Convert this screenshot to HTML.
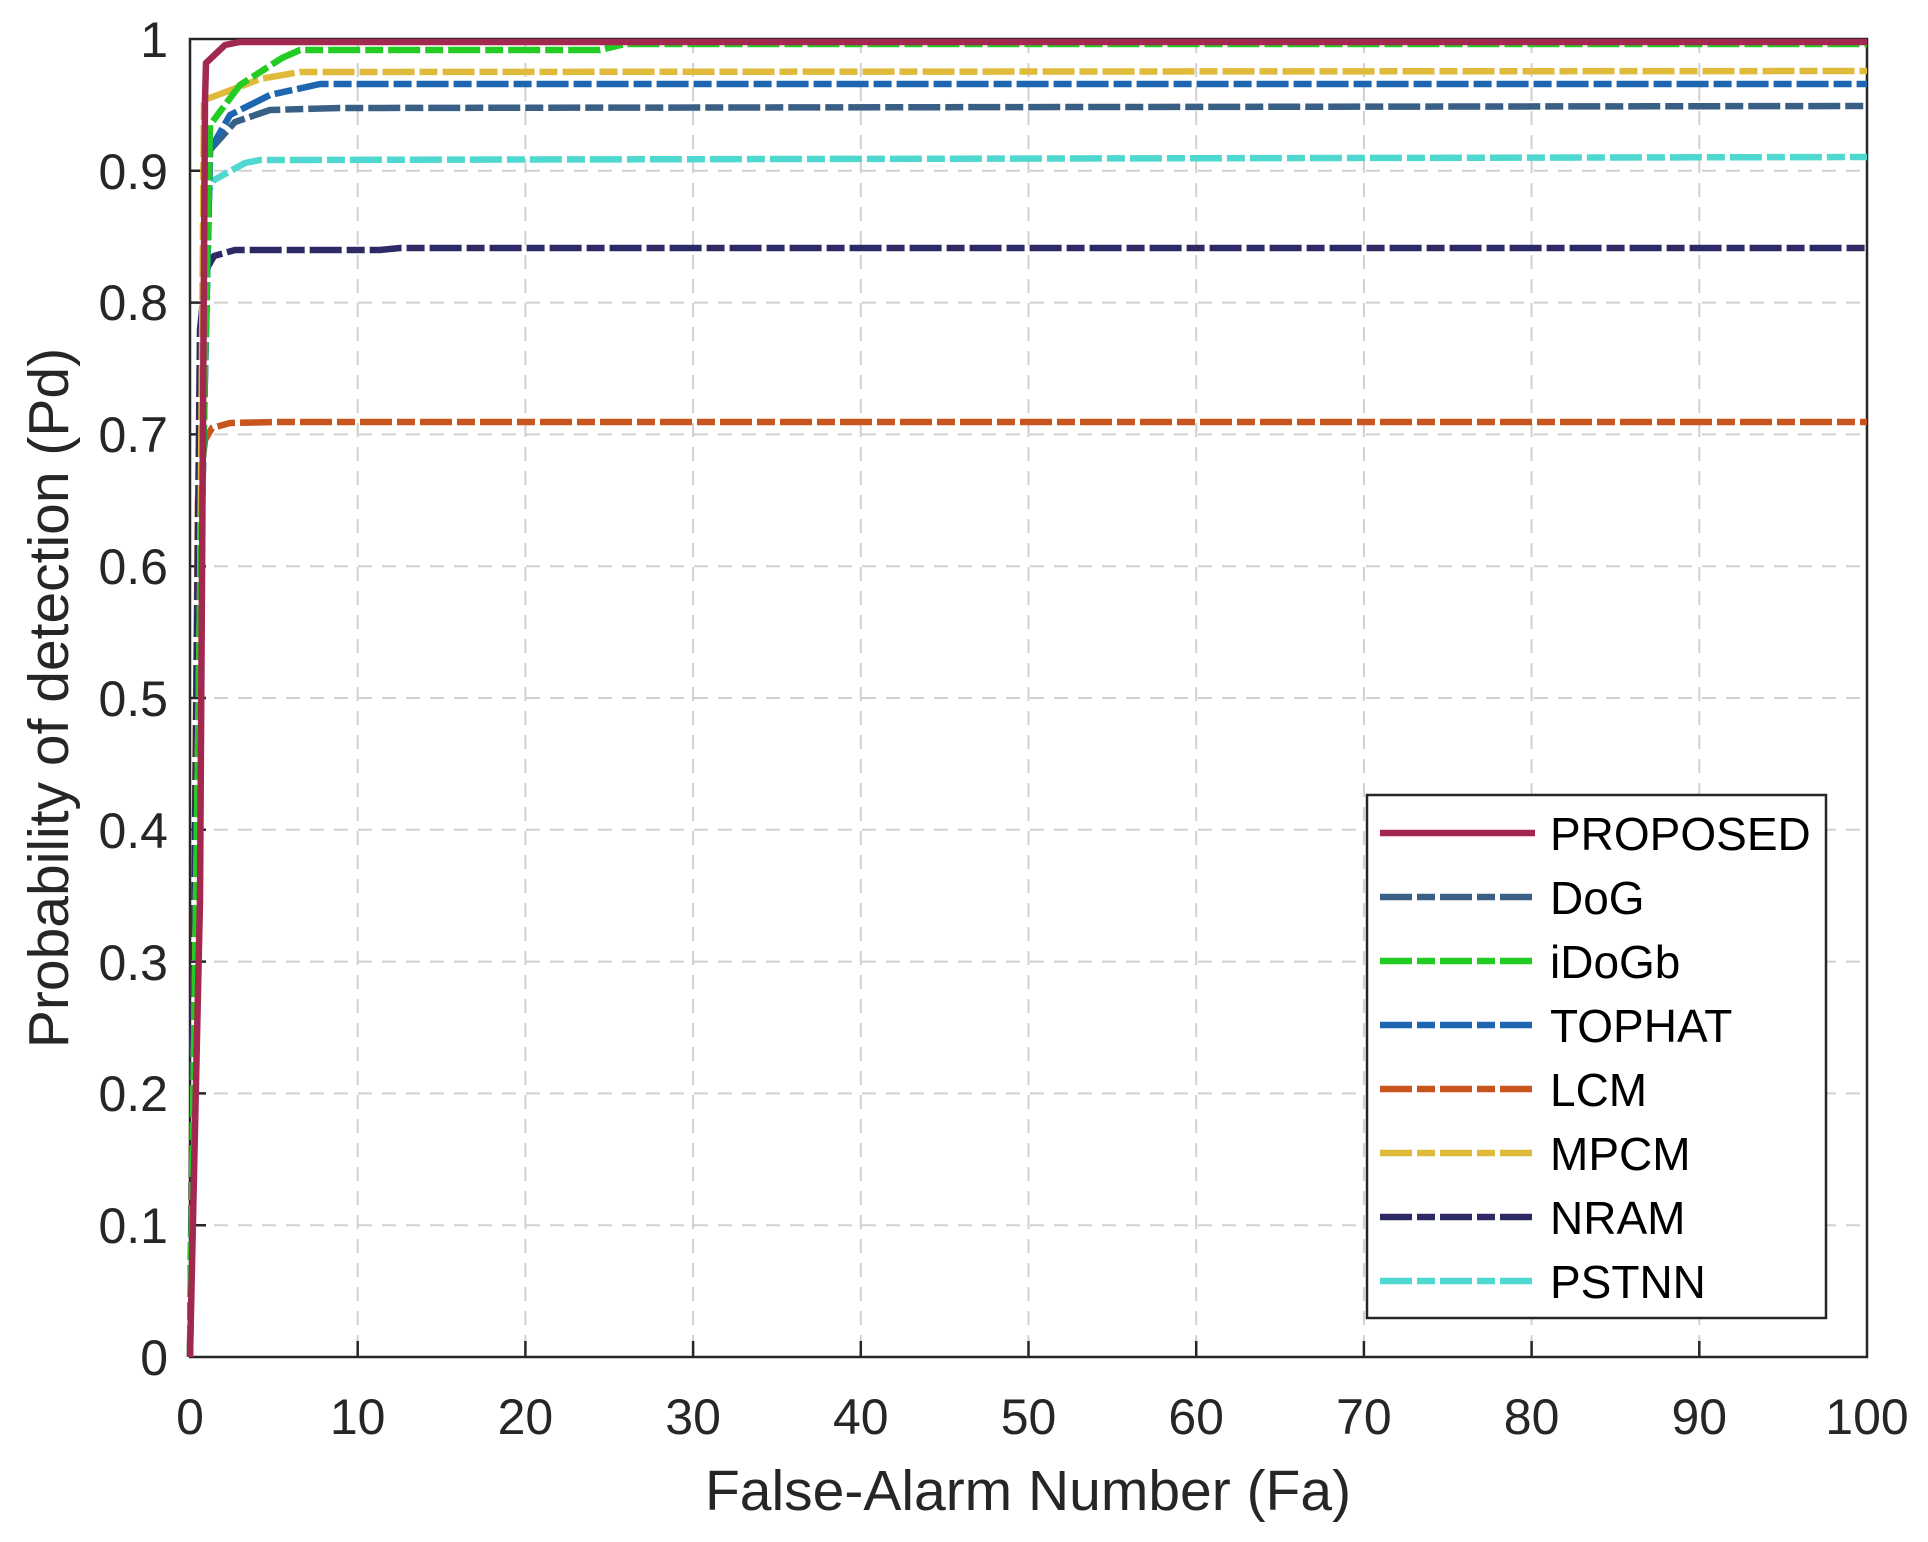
<!DOCTYPE html>
<html><head><meta charset="utf-8"><style>
html,body{margin:0;padding:0;background:#fff;}
svg{display:block;font-family:"Liberation Sans",sans-serif;}
</style></head><body>
<svg width="1928" height="1542" viewBox="0 0 1928 1542" xmlns="http://www.w3.org/2000/svg">
<rect width="1928" height="1542" fill="#fff"/>
<g stroke="#d0d0d0" stroke-width="2" stroke-dasharray="14,10" fill="none">
<path d="M357.7 39V1357M525.4 39V1357M693.1 39V1357M860.8 39V1357M1028.5 39V1357M1196.2 39V1357M1363.9 39V1357M1531.6 39V1357M1699.3 39V1357"/>
<path d="M190 170.8H1867M190 302.6H1867M190 434.4H1867M190 566.2H1867M190 698H1867M190 829.8H1867M190 961.6H1867M190 1093.4H1867M190 1225.2H1867"/>
</g>
<g stroke="#262626" stroke-width="2.5">
<path d="M190 39V1357H1867V39Z" fill="none"/>
<path d="M357.7 1357v-16M525.4 1357v-16M693.1 1357v-16M860.8 1357v-16M1028.5 1357v-16M1196.2 1357v-16M1363.9 1357v-16M1531.6 1357v-16M1699.3 1357v-16"/>
<path d="M190 170.8h16M190 302.6h16M190 434.4h16M190 566.2h16M190 698h16M190 829.8h16M190 961.6h16M190 1093.4h16M190 1225.2h16"/>
</g>
<g fill="none" stroke-width="6.5" stroke-linejoin="round">
<polyline stroke="#C8541E" stroke-dasharray="32,5,18,5" points="190,1357 198,500 205,440 212,428 230,423 280,422 1867,422"/>
<polyline stroke="#2E2A66" stroke-dasharray="32,5,18,5" points="190,1357 200,330 206,270 214,256 235,250 380,250 400,248 1867,248"/>
<polyline stroke="#4ED8D0" stroke-dasharray="32,5,18,5" points="190,1357 200,700 204,200 214,180 245,163 260,160 1867,157"/>
<polyline stroke="#3A5F85" stroke-dasharray="32,5,18,5" points="190,1357 200,600 210,150 235,122 270,110 340,108 1867,106"/>
<polyline stroke="#1F66B0" stroke-dasharray="32,5,18,5" points="190,1357 200,600 210,150 230,115 270,95 320,84 1867,84"/>
<polyline stroke="#E0BA3A" stroke-dasharray="32,5,18,5" points="190,1357 200,600 204,100 215,96 260,79 300,72 1867,71"/>
<polyline stroke="#22CC22" stroke-dasharray="32,5,18,5" points="190,1357 200,600 210,125 240,85 282,58 300,50 600,50 625,44 1867,44"/>
<polyline stroke="#A2284F" points="190,1357 200,900 205,100 206,63 225,45 240,42 1867,42"/>
</g>
<g font-size="50" fill="#262626">
<g text-anchor="middle">
<text x="190" y="1434">0</text><text x="357.7" y="1434">10</text><text x="525.4" y="1434">20</text><text x="693.1" y="1434">30</text><text x="860.8" y="1434">40</text><text x="1028.5" y="1434">50</text><text x="1196.2" y="1434">60</text><text x="1363.9" y="1434">70</text><text x="1531.6" y="1434">80</text><text x="1699.3" y="1434">90</text><text x="1867" y="1434">100</text>
</g>
<g text-anchor="end">
<text x="168" y="57">1</text><text x="168" y="189">0.9</text><text x="168" y="320">0.8</text><text x="168" y="452">0.7</text><text x="168" y="584">0.6</text><text x="168" y="716">0.5</text><text x="168" y="848">0.4</text><text x="168" y="980">0.3</text><text x="168" y="1111">0.2</text><text x="168" y="1243">0.1</text><text x="168" y="1375">0</text>
</g>
</g>
<text x="1028" y="1510" font-size="57" text-anchor="middle" fill="#262626">False-Alarm Number (Fa)</text>
<text transform="translate(68,698) rotate(-90)" font-size="57" text-anchor="middle" fill="#262626">Probability of detection (Pd)</text>
<rect x="1367" y="795" width="459" height="523" fill="#fff" stroke="#262626" stroke-width="2.5"/>
<g stroke-width="6.5" fill="none">
<path d="M1380 833H1535" stroke="#A2284F"/>
<path d="M1380 897H1535" stroke="#3A5F85" stroke-dasharray="32,5,18,5"/>
<path d="M1380 961H1535" stroke="#22CC22" stroke-dasharray="32,5,18,5"/>
<path d="M1380 1025H1535" stroke="#1F66B0" stroke-dasharray="32,5,18,5"/>
<path d="M1380 1089H1535" stroke="#C8541E" stroke-dasharray="32,5,18,5"/>
<path d="M1380 1153H1535" stroke="#E0BA3A" stroke-dasharray="32,5,18,5"/>
<path d="M1380 1217H1535" stroke="#2E2A66" stroke-dasharray="32,5,18,5"/>
<path d="M1380 1281H1535" stroke="#4ED8D0" stroke-dasharray="32,5,18,5"/>
</g>
<g font-size="46" fill="#000">
<text x="1550" y="850">PROPOSED</text>
<text x="1550" y="914">DoG</text>
<text x="1550" y="978">iDoGb</text>
<text x="1550" y="1042">TOPHAT</text>
<text x="1550" y="1106">LCM</text>
<text x="1550" y="1170">MPCM</text>
<text x="1550" y="1234">NRAM</text>
<text x="1550" y="1298">PSTNN</text>
</g>
</svg>
</body></html>
